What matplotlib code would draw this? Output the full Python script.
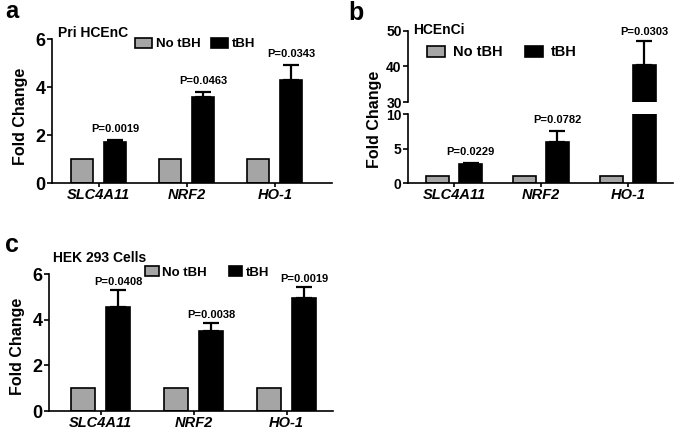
import matplotlib
matplotlib.use("Agg")
import matplotlib.pyplot as plt
import numpy as np

plt.rcParams['font.family'] = ['Liberation Sans', 'DejaVu Sans']
plt.rcParams['font.weight'] = 'bold'

genes = ["SLC4A11", "NRF2", "HO-1"]
series = ["No tBH", "tBH"]

# Panel a: Pri HCEnC
a_no = [1.0, 1.0, 1.0]
a_tbh = [1.72, 3.58, 4.30]
a_err = [0.07, 0.21, 0.62]
a_p = ["P=0.0019", "P=0.0463", "P=0.0343"]

# Panel b: HCEnCi
b_no = [1.0, 1.0, 1.0]
b_tbh = [2.8, 6.0, 40.4]
b_err = [0.15, 1.6, 6.8]
b_p = ["P=0.0229", "P=0.0782", "P=0.0303"]

# Panel c: HEK 293 Cells
c_no = [1.0, 1.0, 1.0]
c_tbh = [4.55, 3.51, 4.96]
c_err = [0.77, 0.36, 0.48]
c_p = ["P=0.0408", "P=0.0038", "P=0.0019"]

GRAY = '#a5a5a5'
W, H = 675, 432
fig = plt.figure(figsize=(6.75, 4.32), dpi=100)


def rect(l, r, t, b):
    return [l / W, 1 - b / H, (r - l) / W, (b - t) / H]


def style(ax, ysize=13, bottom=True):
    for s in ['top', 'right']:
        ax.spines[s].set_visible(False)
    ax.spines['left'].set_linewidth(1.2)
    ax.spines['bottom'].set_linewidth(1.2)
    if not bottom:
        ax.spines['bottom'].set_visible(False)
    ax.tick_params(axis='y', length=3.5, width=1.2, pad=1, labelsize=ysize)
    ax.tick_params(axis='x', length=3, width=1.2, pad=0.5, labelsize=10.5)
    for t in ax.get_yticklabels():
        t.set_fontweight('bold')


def draw_bars(ax, no, tbh, err, off, width):
    x = np.arange(len(genes))
    ax.bar(x - off, no, width, color=GRAY, edgecolor='black', linewidth=1.2,
           label=series[0], zorder=2)
    ax.bar(x + off, tbh, width, color='black', edgecolor='black', linewidth=1.2,
           label=series[1], zorder=2)
    ax.errorbar(x + off, tbh, yerr=[np.zeros(len(err)), err], fmt='none',
                ecolor='black', elinewidth=1.6, capsize=6, capthick=1.6, zorder=3)
    return x


def pvals(ax, x, tbh, err, ps, off, dy):
    for xi, v, e, p in zip(x, tbh, err, ps):
        ax.annotate(p, (xi + off, v + e), xytext=(0, dy), textcoords='offset points',
                    ha='center', va='bottom', fontsize=8, fontweight='bold')


def xlabels(ax, x):
    ax.set_xticks(x)
    ax.set_xticklabels(genes, fontstyle='italic', fontweight='bold', fontsize=10.5)


def legend(ax, x0, yc, hl, tp, spacing, size):
    ax.legend(loc='center left', bbox_to_anchor=(x0 / W, 1 - yc / H),
              bbox_transform=fig.transFigure, ncol=2, frameon=False,
              handlelength=hl, handleheight=0.8, handletextpad=tp,
              columnspacing=spacing, borderpad=0, borderaxespad=0,
              prop={'weight': 'bold', 'size': size})


# ---------- Panel a ----------
axa = fig.add_axes(rect(52, 332, 39, 183))
off, wd = 0.185, 0.25
x = draw_bars(axa, a_no, a_tbh, a_err, off, wd)
axa.set_ylim(0, 6)
axa.set_yticks([0, 2, 4, 6])
axa.set_xlim(-0.53, 2.65)
xlabels(axa, x)
style(axa)
pvals(axa, x, a_tbh, a_err, a_p, off, 4)
legend(axa, 135, 44, 1.3, 0.3, 0.75, 9.5)
fig.text(58 / W, 1 - 33 / H, "Pri HCEnC", fontsize=10, fontweight='bold', va='center', ha='left')
fig.text(21 / W, 1 - 116 / H, "Fold Change", rotation=90, fontsize=11.5,
         fontweight='bold', ha='center', va='center')
fig.text(5 / W, 1 - 18 / H, "a", fontsize=17, fontweight='bold', va='baseline')

# ---------- Panel b ----------
axb_lo = fig.add_axes(rect(408, 673, 114, 183.3))
axb_hi = fig.add_axes(rect(408, 673, 30.7, 102.3))
off, wd = 0.19, 0.26
for axb in (axb_lo, axb_hi):
    x = draw_bars(axb, b_no, b_tbh, b_err, off, wd)
    axb.set_xlim(-0.53, 2.52)
axb_lo.set_ylim(0, 10)
axb_lo.set_yticks([0, 5, 10])
axb_hi.set_ylim(30, 50)
axb_hi.set_yticks([30, 40, 50])
xlabels(axb_lo, x)
style(axb_lo, ysize=10)
style(axb_hi, ysize=10, bottom=False)
axb_hi.tick_params(axis='x', bottom=False, labelbottom=False)
pvals(axb_lo, x[:2], b_tbh[:2], b_err[:2], b_p[:2], off, 4)
pvals(axb_hi, x[2:], b_tbh[2:], b_err[2:], b_p[2:], off, 3)
legend(axb_hi, 427, 52.5, 1.2, 0.55, 1.6, 10.5)
fig.text(413 / W, 1 - 30 / H, "HCEnCi", fontsize=10, fontweight='bold', va='center', ha='left')
fig.text(374 / W, 1 - 119 / H, "Fold Change", rotation=90, fontsize=11.5,
         fontweight='bold', ha='center', va='center')
fig.text(348 / W, 1 - 20 / H, "b", fontsize=18, fontweight='bold', va='baseline')

# ---------- Panel c ----------
axc = fig.add_axes(rect(49, 333, 274.3, 411))
off, wd = 0.19, 0.26
x = draw_bars(axc, c_no, c_tbh, c_err, off, wd)
axc.set_ylim(0, 6)
axc.set_yticks([0, 2, 4, 6])
axc.set_xlim(-0.554, 2.5)
xlabels(axc, x)
style(axc)
pvals(axc, x, c_tbh, c_err, c_p, off, 2)
legend(axc, 145, 272.5, 1.05, 0.25, 1.65, 9.5)
fig.text(53 / W, 1 - 258 / H, "HEK 293 Cells", fontsize=10, fontweight='bold', va='center', ha='left')
fig.text(18 / W, 1 - 346 / H, "Fold Change", rotation=90, fontsize=11.5,
         fontweight='bold', ha='center', va='center')
fig.text(5 / W, 1 - 252 / H, "c", fontsize=18, fontweight='bold', va='baseline')

fig.savefig("out.png", dpi=100)
